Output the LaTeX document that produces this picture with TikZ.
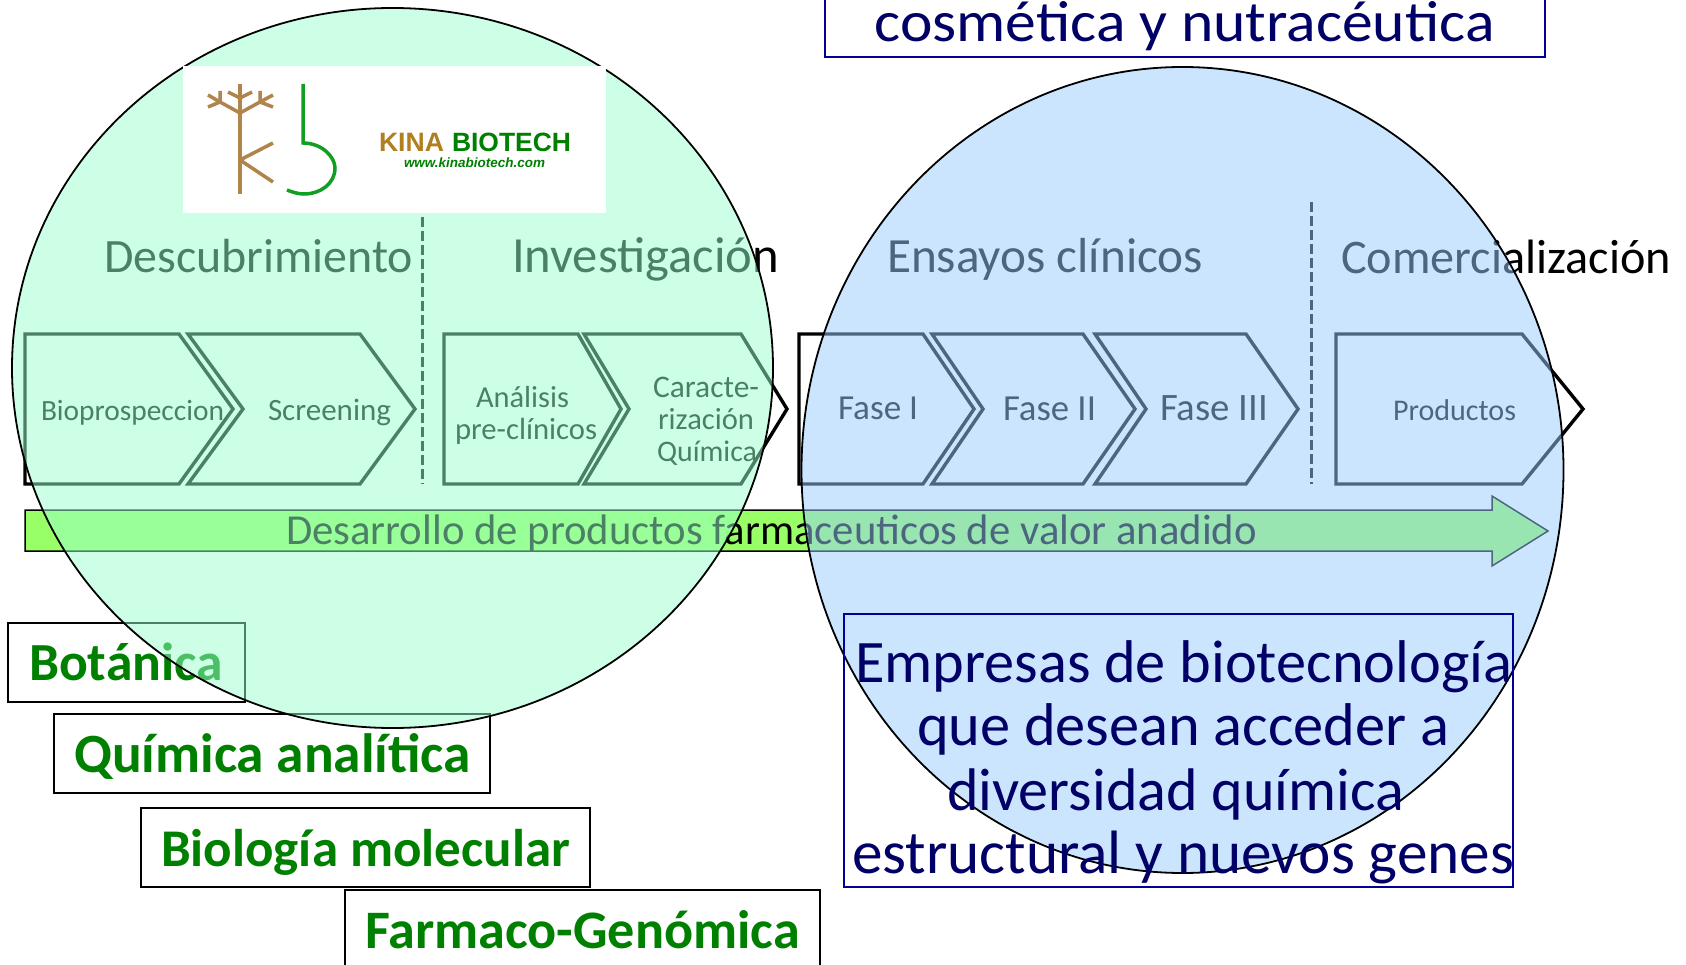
\documentclass[tikz,border=0pt]{standalone}
\usepackage{fontspec}
\setmainfont{Carlito}
\newfontfamily\logofont{Liberation Sans}
\usetikzlibrary{arrows.meta}
\definecolor{navy}{HTML}{000066}
\definecolor{boxblue}{HTML}{000099}
\definecolor{kgreen}{HTML}{008000}
\definecolor{lgreen}{HTML}{109F20}
\definecolor{brown}{HTML}{B0844A}
\definecolor{kgold}{HTML}{B08020}
\definecolor{barfill}{HTML}{99FF66}
\definecolor{leftbub}{HTML}{99FFCC}
\definecolor{rightbub}{HTML}{99CCFF}
\newcommand\fw[2]{\resizebox{#1pt}{!}{#2}}
\tikzset{
  x=1pt,y=-1pt,
  lbl/.style={inner sep=0pt,outer sep=0pt,anchor=base west},
  chev/.style={draw=black,line width=3.4pt,line join=miter,miter limit=10},
  divider/.style={draw=black,line width=3pt,dash pattern=on 10pt off 4pt},
  greenbox/.style={draw=black,line width=2pt},
  bluebox/.style={draw=boxblue,line width=2pt},
  bubble/.style={draw=black,line width=1.8pt,fill opacity=.5},
  greentext/.style={lbl,text=kgreen,font=\bfseries},
  navytext/.style={lbl,text=navy},
  treeline/.style={draw=brown,line width=3.5pt},
  bline/.style={draw=lgreen,line width=3.5pt},
}
\begin{document}
\begin{tikzpicture}
\path[use as bounding box] (0,0) rectangle (1686,965);
% chevrons
\draw[chev] (25,334) -- (179,334) -- (233,409) -- (179,484) -- (25,484) -- cycle;
\draw[chev] (188,334) -- (360,334) -- (415,409) -- (360,484) -- (188,484) -- (243,409) -- cycle;
\draw[chev] (444,334) -- (578,334) -- (621,409) -- (578,484) -- (444,484) -- cycle;
\draw[chev] (584,334) -- (741,334) -- (787,409) -- (741,484) -- (584,484) -- (629,409) -- cycle;
\draw[chev] (799,334) -- (923,334) -- (974,409) -- (923,484) -- (799,484) -- cycle;
\draw[chev] (932,334) -- (1083,334) -- (1135,409) -- (1083,484) -- (932,484) -- (983,409) -- cycle;
\draw[chev] (1095,334) -- (1246,334) -- (1298,409) -- (1246,484) -- (1095,484) -- (1146,409) -- cycle;
\draw[chev] (1336,334) -- (1522,334) -- (1583,409) -- (1522,484) -- (1336,484) -- cycle;
\draw[divider] (422,217) -- (422,484);
\draw[divider] (1311,202) -- (1311,484);
% arrow
\draw[fill=barfill,draw=black,line width=1.5pt]
  (25,510) -- (1492,510) -- (1492,496) -- (1548,531) -- (1492,566) -- (1492,551) -- (25,551) -- cycle;
% headers and labels
\node[lbl] (hdesc) at (104,273) {\fw{309}{Descubrimiento}};
\node[lbl] (hinv) at (512,273) {\fw{267}{Investigación}};
\node[lbl] (hens) at (887,273) {\fw{316}{Ensayos clínicos}};
\node[lbl] (hcom) at (1341,274) {\fw{330}{Comercialización}};
\node[lbl] (l1) at (41,420) {\fw{183}{Bioprospeccion}};
\node[lbl] (l2) at (268,420) {\fw{123}{Screening}};
\node[lbl] (l3a) at (476,407) {\fw{93}{Análisis}};
\node[lbl] (l3b) at (455,439) {\fw{142}{pre-clínicos}};
\node[lbl] (l4a) at (653,397) {\fw{106}{Caracte-}};
\node[lbl] (l4b) at (658,429) {\fw{96}{rización}};
\node[lbl] (l4c) at (657,461) {\fw{100}{Química}};
\node[lbl] (l5) at (838,419) {\fw{80}{Fase I}};
\node[lbl] (l6) at (1003,420) {\fw{93}{Fase II}};
\node[lbl] (l7) at (1160,420) {\fw{108}{Fase III}};
\node[lbl] (l8) at (1393,420) {\fw{123}{Productos}};
\node[lbl] (barlabel) at (286,544) {\fw{971}{Desarrollo de productos farmaceuticos de valor anadido}};
% green boxes
\draw[greenbox] (8,622.5) rectangle (245,702);
\draw[greenbox] (54,714) rectangle (490,793);
\draw[greenbox] (141,808) rectangle (590,887);
\draw[greenbox] (345,965) -- (345,890) -- (820,890) -- (820,965);
\node[greentext] (g1) at (29,680) {\fw{194}{Botánica}};
\node[greentext] (g2) at (74,772) {\fw{397}{Química analítica}};
\node[greentext] (g3) at (161,866) {\fw{409}{Biología molecular}};
\node[greentext] (g4) at (365,948) {\fw{435}{Farmaco-Genómica}};
% translucent ellipses
\draw[bubble,fill=leftbub] (392.5,368) ellipse [x radius=380.5pt,y radius=360pt];
\draw[bubble,fill=rightbub] (1182.5,470) ellipse [x radius=381pt,y radius=403pt];
% logo
\fill[white] (183,66) rectangle (606,213);
\draw[treeline] (240,84) -- (240,194);
\draw[treeline] (240,113) -- (220,102) (220,102) -- (220,91) (220,102) -- (208,95) (220,102) -- (208,107);
\draw[treeline] (240,113) -- (260,102) (260,102) -- (260,91) (260,102) -- (273,95) (260,102) -- (273,107);
\draw[treeline] (240,98) -- (228,92) (240,98) -- (252,92);
\draw[treeline] (240,160) -- (273,143) (240,160) -- (273,182);
\draw[bline] (303,84) -- (303,143) .. controls (322,143) and (335,157) .. (335,168) .. controls (335,184) and (320,194) .. (304,194) .. controls (298,194) and (292,192) .. (287,190);
\node[lbl,text=kgold,font=\logofont\bfseries] (kina) at (379,152) {\fw{65}{KINA}};
\node[lbl,text=kgreen,font=\logofont\bfseries] (biotech) at (452,152) {\fw{119}{BIOTECH}};
\node[lbl,text=kgreen,font=\logofont\bfseries\itshape] (url) at (404,168) {\fw{141}{www.kinabiotech.com}};
% blue boxes
\draw[bluebox] (825,0) -- (825,57) -- (1545,57) -- (1545,0);
\node[navytext] (topt) at (874.5,42) {\resizebox{620pt}{40pt}{cosmética y nutracéutica}};
\draw[bluebox] (843.5,614) rectangle (1513,887);
\node[navytext] (e1) at (855,682) {\fw{657}{Empresas de biotecnología}};
\node[navytext] (e2) at (917,745) {\fw{532}{que desean acceder a}};
\node[navytext] (e3) at (947,810) {\fw{457}{diversidad química}};
\node[navytext] (e4) at (852,873) {\fw{662}{estructural y nuevos genes}};
\end{tikzpicture}
\end{document}
